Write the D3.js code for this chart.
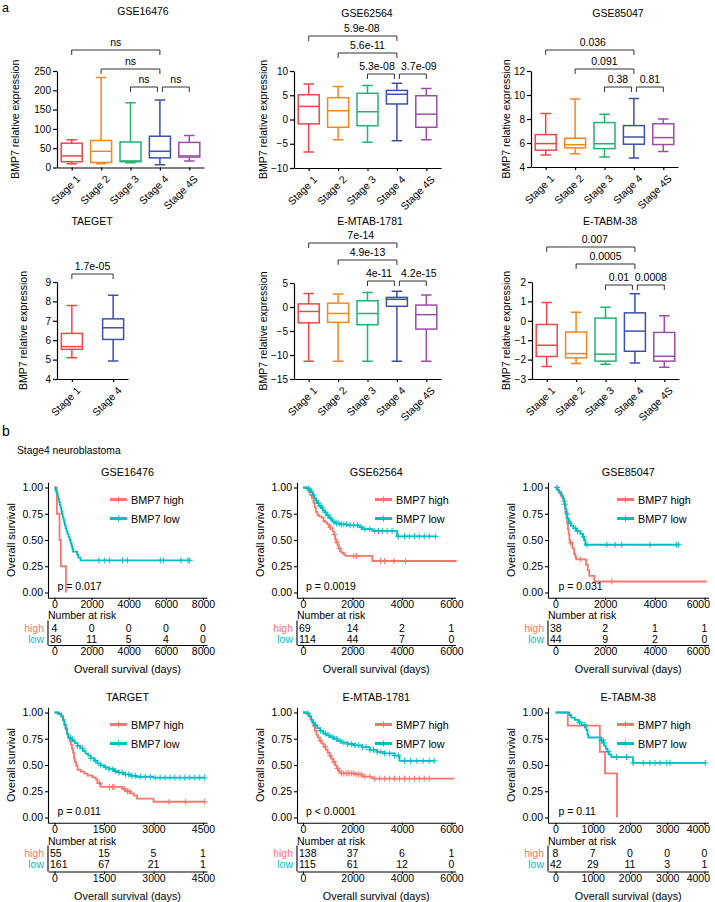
<!DOCTYPE html>
<html>
<head>
<meta charset="utf-8">
<script src="https://cdn.jsdelivr.net/npm/d3@7"></script>
<style>
  body { margin: 0; background: #fff; }
  svg { font-family: Arial, "Liberation Sans", sans-serif; }
</style>
</head>
<body>
<svg id="fig" width="715" height="902"></svg>
<script>
// ---------- panel a: box plot data, [min, q1, median, q3, max] ----------
const stagesAll = ["Stage 1", "Stage 2", "Stage 3", "Stage 4", "Stage 4S"];
const stagesTarget = ["Stage 1", "Stage 4"];

const boxGSE16476 = [[10, 15, 30, 63, 72], [10, 13, 42, 70, 233], [12, 15, 17, 66, 168], [7, 25, 42, 81, 175], [17, 27, 30, 65, 83]];
const boxGSE62564 = [[-6.7, -0.9, 2.7, 5.1, 7.3], [-4.2, -1.6, 1.8, 4.5, 6.8], [-4.7, -1.3, 1.6, 5.4, 7.0], [-4.4, 3.2, 5.2, 6.0, 7.5], [-4.2, -1.6, 1.1, 4.9, 6.4]];
const boxGSE85047 = [[5.0, 5.4, 5.95, 6.7, 8.45], [5.1, 5.6, 5.86, 6.4, 9.66], [4.84, 5.53, 5.94, 7.7, 8.4], [4.75, 5.9, 6.5, 7.45, 9.7], [5.3, 5.87, 6.45, 7.6, 8.0]];
const boxTAEGET = [[5.1, 5.53, 5.67, 6.35, 7.79], [4.93, 6.04, 6.64, 7.1, 8.32]];
const boxEMTAB1781 = [[-11.3, -3.3, -0.93, 0.65, 2.8], [-11.3, -3.2, -1.35, 0.8, 2.7], [-11.3, -3.7, -1.35, 1.3, 3.0], [-11.3, 0.15, 1.6, 2.0, 3.3], [-11.3, -4.6, -1.6, 0.4, 2.5]];
const boxETABM38 = [[-2.36, -1.84, -1.26, -0.19, 0.94], [-2.2, -1.91, -1.69, -0.58, 0.44], [-2.24, -2.08, -1.72, 0.14, 0.7], [-2.18, -1.57, -0.53, 0.41, 1.4], [-2.39, -2.08, -1.83, -0.6, 0.26]];

// comparison brackets [from, to, label]
const pGSE16476 = [["Stage 1", "Stage 4", "ns"], ["Stage 2", "Stage 4", "ns"], ["Stage 3", "Stage 4", "ns"], ["Stage 4", "Stage 4S", "ns"]];
const pGSE62564 = [["Stage 1", "Stage 4", "5.9e-08"], ["Stage 2", "Stage 4", "5.6e-11"], ["Stage 3", "Stage 4", "5.3e-08"], ["Stage 4", "Stage 4S", "3.7e-09"]];
const pGSE85047 = [["Stage 1", "Stage 4", "0.036"], ["Stage 2", "Stage 4", "0.091"], ["Stage 3", "Stage 4", "0.38"], ["Stage 4", "Stage 4S", "0.81"]];
const pTAEGET = [["Stage 1", "Stage 4", "1.7e-05"]];
const pEMTAB1781 = [["Stage 1", "Stage 4", "7e-14"], ["Stage 2", "Stage 4", "4.9e-13"], ["Stage 3", "Stage 4", "4e-11"], ["Stage 4", "Stage 4S", "4.2e-15"]];
const pETABM38 = [["Stage 1", "Stage 4", "0.007"], ["Stage 2", "Stage 4", "0.0005"], ["Stage 3", "Stage 4", "0.01"], ["Stage 4", "Stage 4S", "0.0008"]];

const ticksGSE16476 = [0, 50, 100, 150, 200, 250];
const ticksGSE62564 = [-10, -5, 0, 5, 10];
const ticksGSE85047 = [4, 6, 8, 10, 12];
const ticksTAEGET = [4, 5, 6, 7, 8, 9];
const ticksEMTAB1781 = [-15, -10, -5, 0, 5];
const ticksETABM38 = [-3, -2, -1, 0, 1, 2];

// ---------- panel b: Kaplan-Meier steps [days, survival] ----------
const kmGSE16476High = [[0, 1], [127, 0.75], [271, 0.5], [344, 0.25], [615, 0]];
const kmGSE16476HighCens = [];
const kmGSE16476Low = [[0, 1], [50, 0.972], [110, 0.944], [170, 0.917], [210, 0.889], [250, 0.861], [290, 0.833], [330, 0.806], [370, 0.778], [400, 0.75], [440, 0.722], [480, 0.694], [520, 0.667], [560, 0.639], [600, 0.611], [650, 0.583], [700, 0.556], [760, 0.528], [820, 0.5], [870, 0.472], [920, 0.444], [960, 0.417], [1000, 0.389], [1220, 0.361], [1280, 0.333], [1400, 0.306], [7280, 0.306]];
const kmGSE16476LowCens = [2390, 2710, 2970, 3660, 3930, 5700, 5880, 6820, 7190, 7280];

const kmGSE62564High = [[0, 1], [150, 0.986], [230, 0.957], [300, 0.928], [360, 0.899], [420, 0.855], [470, 0.812], [520, 0.768], [580, 0.739], [650, 0.725], [760, 0.71], [830, 0.681], [900, 0.667], [980, 0.652], [1050, 0.623], [1110, 0.609], [1200, 0.58], [1260, 0.551], [1300, 0.507], [1340, 0.478], [1400, 0.449], [1450, 0.42], [1500, 0.391], [1560, 0.377], [1650, 0.362], [1720, 0.348], [2800, 0.30], [6210, 0.30]];
const kmGSE62564HighCens = [1107, 1270, 1377, 1470, 2052, 2160, 3132, 3294, 3672, 4145];
const kmGSE62564Low = [[0, 1], [150, 0.991], [250, 0.974], [330, 0.956], [400, 0.93], [450, 0.904], [500, 0.877], [560, 0.851], [640, 0.825], [720, 0.807], [800, 0.781], [880, 0.763], [960, 0.737], [1050, 0.711], [1130, 0.693], [1200, 0.675], [1300, 0.658], [1500, 0.649], [1800, 0.64], [2300, 0.622], [2400, 0.604], [2800, 0.586], [3800, 0.535], [5360, 0.535]];
const kmGSE62564LowCens = [230, 280, 420, 540, 620, 700, 780, 900, 1000, 1100, 1250, 1350, 1450, 1550, 1650, 1750, 1900, 2050, 2200, 2350, 2500, 2700, 2900, 3050, 3200, 3400, 3600, 3850, 4100, 4300, 4500, 4700, 4900, 5100, 5360];

const kmGSE85047High = [[0, 1], [90, 0.974], [150, 0.947], [210, 0.921], [280, 0.895], [330, 0.868], [370, 0.816], [400, 0.763], [440, 0.711], [470, 0.658], [500, 0.605], [530, 0.553], [560, 0.5], [590, 0.474], [680, 0.421], [750, 0.368], [800, 0.342], [830, 0.316], [1230, 0.263], [1300, 0.211], [1360, 0.158], [1560, 0.105], [6090, 0.105]];
const kmGSE85047HighCens = [360, 610, 1000, 2270];
const kmGSE85047Low = [[0, 1], [70, 0.977], [150, 0.955], [230, 0.932], [280, 0.909], [320, 0.886], [360, 0.841], [400, 0.795], [440, 0.75], [480, 0.705], [540, 0.659], [620, 0.636], [720, 0.611], [850, 0.585], [1000, 0.558], [1100, 0.53], [1150, 0.5], [1200, 0.455], [4960, 0.455]];
const kmGSE85047LowCens = [67, 373, 467, 600, 800, 893, 1133, 1267, 2067, 2400, 2667, 3800, 4867, 4960];

const kmTARGETHigh = [[0, 1], [150, 0.982], [220, 0.964], [260, 0.927], [300, 0.891], [330, 0.855], [380, 0.8], [420, 0.764], [460, 0.727], [500, 0.691], [530, 0.655], [560, 0.618], [590, 0.564], [620, 0.527], [660, 0.491], [700, 0.455], [800, 0.436], [900, 0.418], [1000, 0.4], [1150, 0.382], [1250, 0.364], [1300, 0.327], [1400, 0.291], [2050, 0.272], [2150, 0.25], [2300, 0.23], [2400, 0.21], [2500, 0.18], [3000, 0.15], [4550, 0.15]];
const kmTARGETHighCens = [1360, 1660, 1760, 1810, 2115, 2215, 2265, 3470, 3975, 4550];
const kmTARGETLow = [[0, 1], [100, 0.988], [200, 0.963], [260, 0.926], [300, 0.882], [340, 0.839], [380, 0.795], [420, 0.758], [500, 0.745], [560, 0.727], [620, 0.708], [700, 0.683], [780, 0.658], [860, 0.634], [940, 0.609], [1020, 0.59], [1100, 0.565], [1200, 0.54], [1300, 0.515], [1400, 0.497], [1500, 0.478], [1650, 0.46], [1800, 0.441], [1950, 0.428], [2100, 0.41], [2300, 0.397], [2500, 0.388], [3000, 0.379], [4550, 0.379]];
const kmTARGETLowCens = [480, 540, 700, 850, 1100, 1250, 1400, 1550, 1650, 1750, 1850, 1950, 2050, 2150, 2250, 2350, 2450, 2600, 2750, 2900, 3050, 3200, 3350, 3500, 3650, 3800, 3950, 4100, 4250, 4400, 4550];

const kmEMTAB1781High = [[0, 1], [150, 0.986], [230, 0.964], [300, 0.935], [360, 0.906], [420, 0.87], [480, 0.826], [540, 0.79], [600, 0.761], [680, 0.732], [760, 0.703], [840, 0.674], [920, 0.645], [1000, 0.616], [1080, 0.587], [1150, 0.558], [1220, 0.529], [1300, 0.496], [1370, 0.467], [1450, 0.438], [1550, 0.42], [2100, 0.41], [2400, 0.39], [2800, 0.37], [6130, 0.37]];
const kmEMTAB1781HighCens = [700, 900, 1100, 1250, 1400, 1550, 1650, 1750, 1850, 1950, 2050, 2150, 2250, 2350, 2500, 2700, 2900, 3100, 3300, 3500, 3700, 3900, 4100, 4300, 4500, 4700, 4900, 5100];
const kmEMTAB1781Low = [[0, 1], [150, 0.991], [250, 0.965], [330, 0.93], [400, 0.904], [480, 0.878], [580, 0.852], [700, 0.826], [820, 0.8], [950, 0.783], [1080, 0.765], [1250, 0.748], [1400, 0.73], [1550, 0.713], [1800, 0.70], [2100, 0.687], [2400, 0.67], [2700, 0.645], [3000, 0.625], [3300, 0.61], [3700, 0.59], [3900, 0.54], [5300, 0.54]];
const kmEMTAB1781LowCens = [200, 500, 700, 900, 1050, 1200, 1350, 1500, 1650, 1800, 1950, 2100, 2250, 2400, 2550, 2700, 2850, 3000, 3150, 3300, 3500, 3700, 3850, 4100, 4350, 4600, 4850, 5100, 5300];

const kmETABM38High = [[0, 1], [330, 0.875], [1190, 0.625], [1330, 0.42], [1650, 0]];
const kmETABM38HighCens = [];
const kmETABM38Low = [[0, 1], [370, 0.976], [420, 0.952], [520, 0.929], [620, 0.905], [700, 0.881], [800, 0.857], [830, 0.833], [860, 0.786], [880, 0.762], [1230, 0.736], [1280, 0.71], [1310, 0.684], [1350, 0.656], [1390, 0.628], [1440, 0.60], [1500, 0.575], [2080, 0.52], [4020, 0.52]];
const kmETABM38LowCens = [647, 782, 1232, 1277, 1300, 1411, 1636, 1906, 2085, 2355, 2535, 2670, 2805, 2985, 3075, 4020];

// number at risk
const riskTicksGSE16476 = [0, 2000, 4000, 6000, 8000];
const riskGSE16476High = [4, 0, 0, 0, 0];
const riskGSE16476Low = [36, 11, 5, 4, 0];
const riskTicksGSE62564 = [0, 2000, 4000, 6000];
const riskGSE62564High = [69, 14, 2, 1];
const riskGSE62564Low = [114, 44, 7, 0];
const riskTicksGSE85047 = [0, 2000, 4000, 6000];
const riskGSE85047High = [38, 2, 1, 1];
const riskGSE85047Low = [44, 9, 2, 0];
const riskTicksTARGET = [0, 1500, 3000, 4500];
const riskTARGETHigh = [55, 15, 5, 1];
const riskTARGETLow = [161, 67, 21, 1];
const riskTicksEMTAB1781 = [0, 2000, 4000, 6000];
const riskEMTAB1781High = [138, 37, 6, 1];
const riskEMTAB1781Low = [115, 61, 12, 0];
const riskTicksETABM38 = [0, 1000, 2000, 3000, 4000];
const riskETABM38High = [8, 7, 0, 0, 0];
const riskETABM38Low = [42, 29, 11, 3, 1];

const groupNames = ["BMP7 high", "BMP7 low"];

// ---------- styles ----------
const stageColor = d3.scaleOrdinal()
    .domain(stagesAll)
    .range(["#ef4749", "#f7861f", "#23b26f", "#3c50b1", "#9b4fa6"]);
const highColor = "#F8766D";
const lowColor = "#00BFC4";
const RIGHT_LIMIT = 709.5;

const svg = d3.select("#fig");

function styleAxis(a, fs) {
    a.attr("font-family", null).attr("font-size", null);
    a.selectAll("text").attr("font-size", fs).attr("fill", "#000");
    a.selectAll("line,path").attr("stroke", "#000");
}

// keeps tick labels inside the picture's right edge
function keepInside(a, scale) {
    a.selectAll(".tick text").each(function (d) {
        const w = this.getComputedTextLength();
        const over = scale(d) + w / 2 - RIGHT_LIMIT;
        if (over > 0) d3.select(this).attr("x", -over);
    });
}

/**
 * draws one box-and-whisker panel of part a
 */
function drawBoxPanel(p) {
    const g = svg.append("g");
    const y = d3.scaleLinear()
        .domain([p.ticks[0], p.ticks[p.ticks.length - 1]])
        .range([p.bottom, p.top]);
    const x = d3.scalePoint()
        .domain(p.cats)
        .range([p.axisX, p.axisX + p.width])
        .padding(p.pad);

    g.append("g")
        .attr("transform", `translate(${p.axisX},0)`)
        .call(d3.axisLeft(y).tickValues(p.ticks).tickFormat(d3.format("d")).tickSize(4).tickSizeOuter(0).tickPadding(2))
        .call(a => styleAxis(a, 10))
        .call(a => a.selectAll("line,path").attr("stroke-width", 1.2));

    g.append("g")
        .attr("transform", `translate(0,${p.bottom})`)
        .call(d3.axisBottom(x).tickSize(3).tickSizeOuter(0).tickFormat(""))
        .call(a => styleAxis(a, 10))
        .call(a => a.selectAll("line,path").attr("stroke-width", 1.2));

    g.selectAll(".xlab")
        .data(p.cats)
        .join("text")
        .attr("transform", d => `translate(${x(d) + 4},${p.bottom + 7}) rotate(-45)`)
        .attr("text-anchor", "end")
        .attr("dy", "0.7em")
        .attr("font-size", 10.5)
        .text(d => d);

    // title and y label
    g.append("text")
        .attr("x", p.titleX).attr("y", p.titleY)
        .attr("text-anchor", "middle").attr("font-size", 10.5)
        .text(p.title);
    g.append("text")
        .attr("transform", `translate(${p.labelX},${(p.top + p.bottom) / 2}) rotate(-90)`)
        .attr("text-anchor", "middle").attr("dominant-baseline", "central")
        .attr("font-size", 10.5)
        .text("BMP7 relative expression");

    const bw = 21;
    const boxes = g.selectAll(".box")
        .data(p.stats)
        .join("g")
        .attr("fill", "none")
        .attr("stroke-width", 1.5)
        .attr("stroke", (d, i) => stageColor(p.cats[i]));
    boxes.append("path")
        .attr("d", (d, i) => {
            const cx = x(p.cats[i]);
            return `M${cx},${y(d[4])}V${y(d[3])}M${cx},${y(d[1])}V${y(d[0])}` +
                `M${cx - bw / 4},${y(d[4])}H${cx + bw / 4}M${cx - bw / 4},${y(d[0])}H${cx + bw / 4}`;
        });
    boxes.append("rect")
        .attr("x", (d, i) => x(p.cats[i]) - bw / 2)
        .attr("width", bw)
        .attr("y", d => y(d[3]))
        .attr("height", d => y(d[1]) - y(d[3]));
    boxes.append("line")
        .attr("x1", (d, i) => x(p.cats[i]) - bw / 2)
        .attr("x2", (d, i) => x(p.cats[i]) + bw / 2)
        .attr("y1", d => y(d[2]))
        .attr("y2", d => y(d[2]));

    // significance brackets
    p.brackets.forEach((b, i) => {
        let x1 = x(b[0]), x2 = x(b[1]);
        if (i >= 2) {
            if (b[0] === "Stage 4") x1 += 2.5;
            if (b[1] === "Stage 4") x2 -= 2.5;
        }
        const yb = p.bracketY[i];
        const dx = p.labelDx ? p.labelDx[i] : 0;
        g.append("path")
            .attr("d", `M${x1},${yb + 5}V${yb}H${x2}V${yb + 5}`)
            .attr("fill", "none").attr("stroke", "#333").attr("stroke-width", 1);
        g.append("text")
            .attr("x", (x1 + x2) / 2 + dx).attr("y", yb - 4)
            .attr("text-anchor", "middle").attr("font-size", 10.5)
            .text(b[2]);
    });
}

drawBoxPanel({ title: "GSE16476", cats: stagesAll, stats: boxGSE16476, ticks: ticksGSE16476, brackets: pGSE16476,
    axisX: 57, width: 147, pad: 0.5, top: 71, bottom: 167.5, titleX: 143, titleY: 15, labelX: 15, bracketY: [50, 69, 87, 87] });
drawBoxPanel({ title: "GSE62564", cats: stagesAll, stats: boxGSE62564, ticks: ticksGSE62564, brackets: pGSE62564,
    axisX: 294, width: 147, pad: 0.5, top: 71, bottom: 168, titleX: 367, titleY: 17, labelX: 263, bracketY: [36, 53, 74, 74], labelDx: [9, 0, -4, 6] });
drawBoxPanel({ title: "GSE85047", cats: stagesAll, stats: boxGSE85047, ticks: ticksGSE85047, brackets: pGSE85047,
    axisX: 531, width: 147, pad: 0.5, top: 71, bottom: 167, titleX: 618, titleY: 17, labelX: 506, bracketY: [50, 69, 87, 87], labelDx: [3, 0, 0, 0] });
drawBoxPanel({ title: "TAEGET", cats: stagesTarget, stats: boxTAEGET, ticks: ticksTAEGET, brackets: pTAEGET,
    axisX: 57, width: 71, pad: 0.36, top: 282, bottom: 379, titleX: 92, titleY: 225, labelX: 23, bracketY: [274] });
drawBoxPanel({ title: "E-MTAB-1781", cats: stagesAll, stats: boxEMTAB1781, ticks: ticksEMTAB1781, brackets: pEMTAB1781,
    axisX: 294, width: 147, pad: 0.5, top: 283, bottom: 379, titleX: 370, titleY: 225, labelX: 263, bracketY: [243, 260, 281, 281], labelDx: [8, 0, -2, 6] });
drawBoxPanel({ title: "E-TABM-38", cats: stagesAll, stats: boxETABM38, ticks: ticksETABM38, brackets: pETABM38,
    axisX: 532, width: 147, pad: 0.5, top: 282, bottom: 379, titleX: 610, titleY: 225, labelX: 506, bracketY: [247, 264, 285, 285], labelDx: [4, 0, 0, 0] });

/**
 * draws one Kaplan-Meier panel with its risk table (part b)
 */
function drawKM(k) {
    const g = svg.append("g");
    const x = d3.scaleLinear().domain([0, k.xMax]).range([k.x0, k.xEnd]);
    const y = d3.scaleLinear().domain([0, 1]).range([k.y0, k.y1]);
    const right = k.xEnd + 4;
    const xa = x.copy().domain([x.invert(k.axisX), x.invert(right)]).range([k.axisX, right]);
    const ya = y.copy().domain([-0.05, 1.05]).range([y(-0.05), y(1.05)]);
    const bottom = y(-0.05);

    g.append("g")
        .attr("transform", `translate(${k.axisX},0)`)
        .call(d3.axisLeft(ya).tickValues([0, 0.25, 0.5, 0.75, 1]).tickFormat(d3.format(".2f")).tickSize(3).tickSizeOuter(0).tickPadding(2))
        .call(a => styleAxis(a, 10.5))
        .call(a => a.selectAll("line,path").attr("stroke-width", 1.1));
    g.append("g")
        .attr("transform", `translate(0,${bottom})`)
        .call(d3.axisBottom(xa).tickValues(k.ticks).tickFormat(d3.format("d")).tickSize(2.5).tickSizeOuter(0).tickPadding(0.5))
        .call(a => styleAxis(a, 10.5))
        .call(a => a.selectAll("line,path").attr("stroke-width", 1.1))
        .call(a => keepInside(a, xa));

    g.append("text")
        .attr("x", (k.axisX + right) / 2).attr("y", k.titleY)
        .attr("text-anchor", "middle").attr("font-size", 10.8)
        .text(k.title);
    g.append("text")
        .attr("transform", `translate(${k.axisX - 37.5},${(k.y0 + k.y1) / 2}) rotate(-90)`)
        .attr("text-anchor", "middle").attr("dominant-baseline", "central")
        .attr("font-size", 10.8)
        .text("Overall survival");

    const line = d3.line().x(d => x(d[0])).y(d => y(d[1])).curve(d3.curveStepAfter);
    const groups = [
        { steps: k.high, cens: k.highCens, color: highColor },
        { steps: k.low, cens: k.lowCens, color: lowColor }
    ];
    groups.forEach(gr => {
        g.append("path")
            .attr("d", line(gr.steps))
            .attr("fill", "none").attr("stroke", gr.color).attr("stroke-width", 1.8);
        const survAt = t => {
            let s = 1;
            gr.steps.forEach(d => { if (d[0] <= t) s = d[1]; });
            return s;
        };
        g.append("path")
            .attr("d", gr.cens.map(t => {
                const cx = x(t), cy = y(survAt(t));
                return `M${cx - 3},${cy}h6M${cx},${cy - 3}v6`;
            }).join(""))
            .attr("stroke", gr.color).attr("stroke-width", 1);
    });

    // legend
    groups.forEach((gr, i) => {
        const ly = k.y1 + 12 + i * 19;
        g.append("line")
            .attr("x1", k.legX).attr("x2", k.legX + 17)
            .attr("y1", ly).attr("y2", ly)
            .attr("stroke", gr.color).attr("stroke-width", 3);
        g.append("path")
            .attr("d", `M${k.legX + 8.5},${ly - 3}v6`)
            .attr("stroke", gr.color).attr("stroke-width", 1);
        g.append("text")
            .attr("x", k.legX + 21).attr("y", ly + 4)
            .attr("font-size", 10.8)
            .text(groupNames[i]);
    });

    g.append("text")
        .attr("x", k.x0 + 3).attr("y", k.y0 - 2.5)
        .attr("font-size", 10.5)
        .text(k.pText);

    // risk table
    g.append("text")
        .attr("x", k.axisX).attr("y", k.narY + 4)
        .attr("font-size", 10.5)
        .text("Number at risk");
    const rows = [
        { label: "high", vals: k.riskHigh, color: highColor, ry: k.rowY[0] },
        { label: "low", vals: k.riskLow, color: lowColor, ry: k.rowY[1] }
    ];
    rows.forEach(r => {
        g.append("text")
            .attr("x", k.axisX - 4).attr("y", r.ry + 4)
            .attr("text-anchor", "end").attr("font-size", 10.5)
            .attr("fill", r.color)
            .text(r.label);
        g.selectAll(null)
            .data(r.vals)
            .join("text")
            .attr("x", (d, i) => x(k.ticks[i]))
            .attr("y", r.ry + 4)
            .attr("text-anchor", "middle").attr("font-size", 10.5)
            .text(d => d)
            .each(function () {
                // keep the first column clear of the table's axis line
                const w = this.getComputedTextLength();
                const cx = +this.getAttribute("x");
                if (cx - w / 2 < k.axisX + 2) this.setAttribute("x", k.axisX + 2 + w / 2);
            });
    });
    g.append("line")
        .attr("x1", k.axisX).attr("x2", k.axisX)
        .attr("y1", k.rowY[0] - 7).attr("y2", k.riskAxisY)
        .attr("stroke", "#000").attr("stroke-width", 1.1);
    g.append("g")
        .attr("transform", `translate(0,${k.riskAxisY})`)
        .call(d3.axisBottom(xa).tickValues(k.ticks).tickFormat(d3.format("d")).tickSize(2.5).tickSizeOuter(0).tickPadding(0.5))
        .call(a => styleAxis(a, 10.5))
        .call(a => a.selectAll("line,path").attr("stroke-width", 1.1))
        .call(a => keepInside(a, xa));
    g.append("text")
        .attr("x", (k.axisX + right) / 2).attr("y", k.xTitleY)
        .attr("text-anchor", "middle").attr("font-size", 10.8)
        .text("Overall survival (days)");
}

const kmCols = [
    { axisX: 48, x0: 54.5, xEnd: 203, legX: 110 },
    { axisX: 297, x0: 303, xEnd: 451.5, legX: 375 },
    { axisX: 548, x0: 555.5, xEnd: 704.5, legX: 617 }
];
const kmRows = [
    { y1: 487.5, y0: 592.5, titleY: 476, narY: 615, rowY: [627.5, 639], riskAxisY: 645, xTitleY: 673 },
    { y1: 712.5, y0: 817.5, titleY: 701, narY: 841, rowY: [852.5, 864], riskAxisY: 871.5, xTitleY: 900 }
];

const kmPanels = [
    { title: "GSE16476", xMax: 8000, ticks: riskTicksGSE16476, high: kmGSE16476High, highCens: kmGSE16476HighCens, low: kmGSE16476Low, lowCens: kmGSE16476LowCens, riskHigh: riskGSE16476High, riskLow: riskGSE16476Low, pText: "p = 0.017" },
    { title: "GSE62564", xMax: 6000, ticks: riskTicksGSE62564, high: kmGSE62564High, highCens: kmGSE62564HighCens, low: kmGSE62564Low, lowCens: kmGSE62564LowCens, riskHigh: riskGSE62564High, riskLow: riskGSE62564Low, pText: "p = 0.0019" },
    { title: "GSE85047", xMax: 6000, ticks: riskTicksGSE85047, high: kmGSE85047High, highCens: kmGSE85047HighCens, low: kmGSE85047Low, lowCens: kmGSE85047LowCens, riskHigh: riskGSE85047High, riskLow: riskGSE85047Low, pText: "p = 0.031" },
    { title: "TARGET", xMax: 4500, ticks: riskTicksTARGET, high: kmTARGETHigh, highCens: kmTARGETHighCens, low: kmTARGETLow, lowCens: kmTARGETLowCens, riskHigh: riskTARGETHigh, riskLow: riskTARGETLow, pText: "p = 0.011" },
    { title: "E-MTAB-1781", xMax: 6000, ticks: riskTicksEMTAB1781, high: kmEMTAB1781High, highCens: kmEMTAB1781HighCens, low: kmEMTAB1781Low, lowCens: kmEMTAB1781LowCens, riskHigh: riskEMTAB1781High, riskLow: riskEMTAB1781Low, pText: "p < 0.0001" },
    { title: "E-TABM-38", xMax: 4000, ticks: riskTicksETABM38, high: kmETABM38High, highCens: kmETABM38HighCens, low: kmETABM38Low, lowCens: kmETABM38LowCens, riskHigh: riskETABM38High, riskLow: riskETABM38Low, pText: "p = 0.11" }
];

kmPanels.forEach((p, i) => {
    drawKM(Object.assign({}, kmCols[i % 3], kmRows[Math.floor(i / 3)], p));
});

// panel letters and subtitle
svg.append("text").attr("x", 2).attr("y", 11.5).attr("font-size", 12.5).text("a");
svg.append("text").attr("x", 2).attr("y", 436).attr("font-size", 14).text("b");
svg.append("text").attr("x", 17).attr("y", 454).attr("font-size", 10.3).text("Stage4 neuroblastoma");
</script>
</body>
</html>
